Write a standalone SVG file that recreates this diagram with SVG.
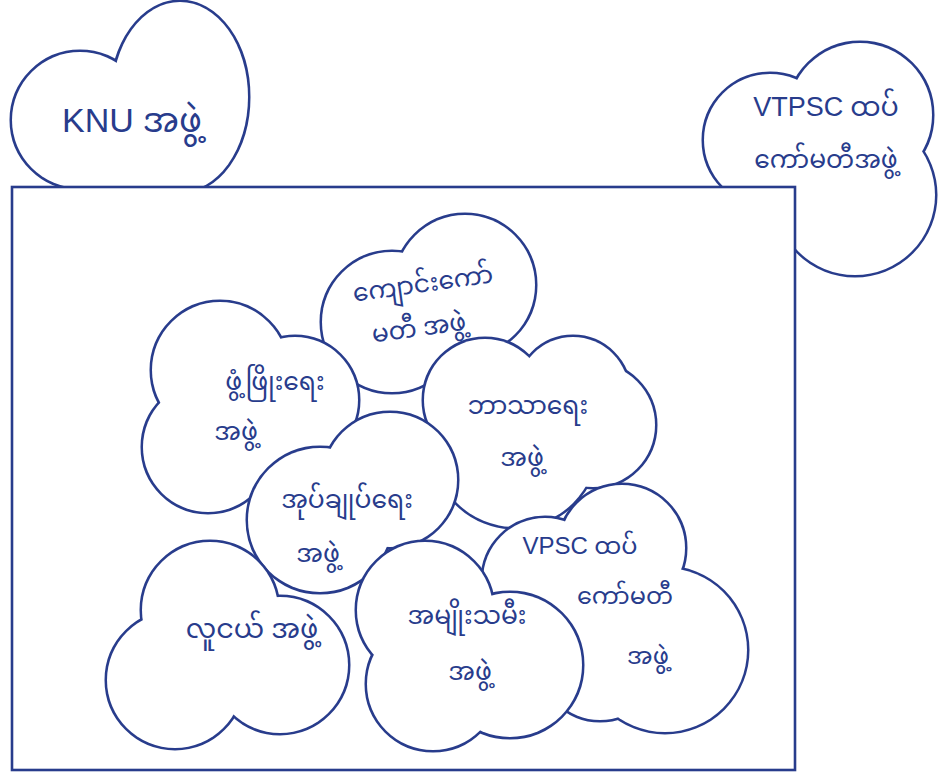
<svg xmlns="http://www.w3.org/2000/svg" xmlns:xlink="http://www.w3.org/1999/xlink" width="950" height="774" viewBox="0 0 950 774">
<style>
  .s { fill: none; stroke: #283c8c; stroke-width: 5; }
  .f { fill: #ffffff; stroke: none; }
  .box { fill: #ffffff; stroke: #283c8c; stroke-width: 2.6; }
  .t { font-family: "Noto Sans Myanmar", "Padauk", "Myanmar Text", "Noto Sans", "DejaVu Sans", sans-serif; fill: #283c8c; text-anchor: middle; font-size: 25px; }
  .lat { font-family: "Liberation Sans", "DejaVu Sans", sans-serif; }
</style>
<defs>
  <g id="sh-knu"><circle cx="80" cy="120" r="68"/><ellipse cx="180" cy="97" rx="68" ry="95"/><circle cx="140" cy="195" r="62"/></g>
  <g id="sh-vtpsc"><circle cx="860" cy="115" r="72"/><circle cx="770" cy="140" r="66"/><circle cx="855" cy="195" r="80"/></g>
  <g id="sh-school"><circle cx="392" cy="322" r="70"/><circle cx="465" cy="285" r="70"/></g>
  <g id="sh-dev"><circle cx="220" cy="370" r="68"/><circle cx="208" cy="447" r="65"/><circle cx="295" cy="400" r="63"/><circle cx="250" cy="430" r="50"/></g>
  <g id="sh-rel"><circle cx="485" cy="400" r="61"/><circle cx="573" cy="393" r="56"/><circle cx="593" cy="425" r="62"/><circle cx="515" cy="445" r="82"/></g>
  <g id="sh-vpsc"><circle cx="545" cy="580" r="62"/><circle cx="622" cy="548" r="63"/><circle cx="665" cy="650" r="82"/><circle cx="600" cy="660" r="60"/></g>
  <g id="sh-admin"><circle cx="390" cy="480" r="67"/><circle cx="320" cy="520" r="72"/></g>
  <g id="sh-youth"><circle cx="210" cy="610" r="68"/><circle cx="175" cy="680" r="68"/><circle cx="280" cy="665" r="68"/><circle cx="230" cy="660" r="50"/></g>
  <g id="sh-women"><circle cx="425" cy="610" r="68"/><circle cx="433" cy="684" r="66"/><circle cx="510" cy="665" r="72"/><circle cx="470" cy="660" r="50"/></g>
</defs>

<g id="node-knu">
  <use xlink:href="#sh-knu" class="s"/><use xlink:href="#sh-knu" class="f"/>
  <text class="t" x="132" y="132" style="font-size:34px"><tspan class="lat">KNU</tspan> အဖွဲ့</text>
</g>

<g id="node-vtpsc">
  <use xlink:href="#sh-vtpsc" class="s"/><use xlink:href="#sh-vtpsc" class="f"/>
  <text class="t" x="826" y="116" style="font-size:27px"><tspan class="lat">VTPSC</tspan> ထပ်</text>
  <text class="t" x="826" y="168">ကော်မတီအဖွဲ့</text>
</g>

<g id="frame">
  <rect class="box" x="12" y="187" width="783" height="583"/>
</g>

<g id="node-school">
  <use xlink:href="#sh-school" class="s"/><use xlink:href="#sh-school" class="f"/>
  <text class="t" x="424" y="292" transform="rotate(-8 424 292)">ကျောင်းကော်</text>
  <text class="t" x="420" y="336" transform="rotate(-8 420 336)">မတီ အဖွဲ့</text>
</g>

<g id="node-dev">
  <use xlink:href="#sh-dev" class="s"/><use xlink:href="#sh-dev" class="f"/>
  <text class="t" x="275" y="390">ဖွံ့ဖြိုးရေး</text>
  <text class="t" x="236" y="440">အဖွဲ့</text>
</g>

<g id="node-rel">
  <use xlink:href="#sh-rel" class="s"/><use xlink:href="#sh-rel" class="f"/>
  <text class="t" x="528" y="414">ဘာသာရေး</text>
  <text class="t" x="522" y="466">အဖွဲ့</text>
</g>

<g id="node-vpsc">
  <use xlink:href="#sh-vpsc" class="s"/><use xlink:href="#sh-vpsc" class="f"/>
  <text class="t" x="580" y="554" style="font-size:24px"><tspan class="lat">VPSC</tspan> ထပ်</text>
  <text class="t" x="625" y="604" style="font-size:24px">ကော်မတီ</text>
  <text class="t" x="648" y="664" style="font-size:24px">အဖွဲ့</text>
</g>

<g id="node-admin">
  <use xlink:href="#sh-admin" class="s"/><use xlink:href="#sh-admin" class="f"/>
  <text class="t" x="347" y="508">အုပ်ချုပ်ရေး</text>
  <text class="t" x="318" y="562">အဖွဲ့</text>
</g>

<g id="node-youth">
  <use xlink:href="#sh-youth" class="s"/><use xlink:href="#sh-youth" class="f"/>
  <text class="t" x="252" y="638" style="font-size:27px">လူငယ် အဖွဲ့</text>
</g>

<g id="node-women">
  <use xlink:href="#sh-women" class="s"/><use xlink:href="#sh-women" class="f"/>
  <text class="t" x="467" y="624">အမျိုးသမီး</text>
  <text class="t" x="470" y="680">အဖွဲ့</text>
</g>

<g id="connectors"></g>
</svg>
